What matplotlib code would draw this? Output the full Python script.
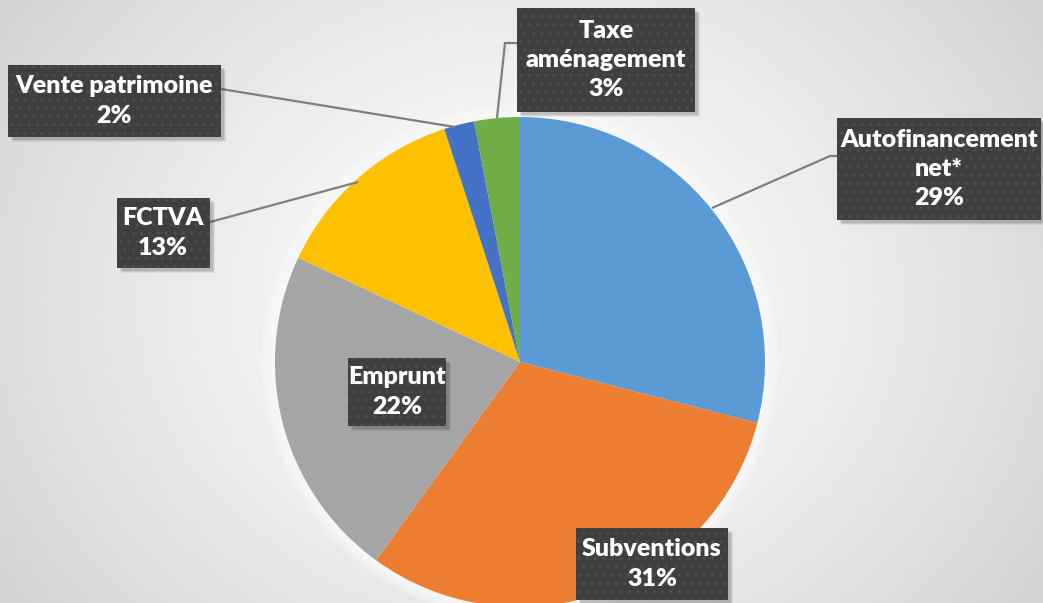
import numpy as np
import matplotlib
matplotlib.use("Agg")
import matplotlib.pyplot as plt
from matplotlib.patches import FancyBboxPatch, Circle

# Funding sources (percent of total)
categories = ["Autofinancement\nnet*", "Subventions", "Emprunt", "FCTVA",
              "Vente patrimoine", "Taxe\naménagement"]
shares = [29, 31, 22, 13, 2, 3]
colors = ["#5B9BD5", "#ED7D31", "#A5A5A5", "#FFC000", "#4472C4", "#70AD47"]

W, H = 1043, 603
fig = plt.figure(figsize=(W / 100, H / 100), dpi=100)
ax = fig.add_axes([0, 0, 1, 1])

# radial background: light at the centre, grey toward the edges
yy, xx = np.mgrid[0:H, 0:W]
d = np.hypot((xx - 520) / 620, (yy - 300) / 520)
g = np.clip(1.0 - 0.17 * d ** 1.3, 0.80, 1.0)
bg = np.dstack([g, g, g])
ax.imshow(bg, extent=(0, W, 0, H), origin="lower", zorder=0, interpolation="bilinear")

cx, cy, r = 520, 241, 245

# soft white glow around the pie
for i in range(12):
    ax.add_patch(Circle((cx, cy), r + 14 - i, color="white", alpha=0.10, lw=0, zorder=1))

wedges, _ = ax.pie(shares, colors=colors, startangle=90, counterclock=False,
                   center=(cx, cy), radius=r, frame=True,
                   wedgeprops=dict(linewidth=0, zorder=2))
ax.set_xlim(0, W)
ax.set_ylim(0, H)
ax.set_aspect("equal")
ax.axis("off")

# label box centres (x, y from top) and box sizes
label_pos = [(939, 169), (652, 564), (397, 392), (163, 233), (114, 101), (606, 60)]
box_size = [(204, 102), (152, 72), (98, 68), (93, 70), (213, 72), (178, 104)]

# leader lines for the outer labels, as lists of points (y from top)
leaders = {
    0: [(838, 156), (830, 156), (712, 208)],
    3: [(210, 222), (358, 182)],
    4: [(221, 89), (455, 127)],
    5: [(517, 43), (505, 43), (497, 118)],
}
for pts in leaders.values():
    xs = [p[0] for p in pts]
    ys = [H - p[1] for p in pts]
    ax.plot(xs, ys, color="#7F7F7F", lw=1.6, zorder=3, solid_capstyle="butt")

plt.rcParams["hatch.linewidth"] = 1.0
for i, (lab, val) in enumerate(zip(categories, shares)):
    x, y = label_pos[i]
    bw, bh = box_size[i]
    y = H - y
    # drop shadow
    for k, a in enumerate([0.10, 0.08, 0.06]):
        ax.add_patch(FancyBboxPatch((x - bw / 2 + 3 + k, y - bh / 2 - 3 - k), bw, bh,
                                    boxstyle="square,pad=0", fc="black", ec="none",
                                    alpha=a, zorder=4))
    ax.add_patch(FancyBboxPatch((x - bw / 2, y - bh / 2), bw, bh,
                                boxstyle="square,pad=0", fc="#3F3F3F", ec="#4E4E4E",
                                lw=0, hatch="..", zorder=5))
    ax.text(x, y, f"{lab}\n{val}%", ha="center", va="center", color="white",
            fontsize=18, fontweight="heavy", family=["Lato", "DejaVu Sans"],
            linespacing=1.4, zorder=6)

fig.savefig("out.png", dpi=100)
